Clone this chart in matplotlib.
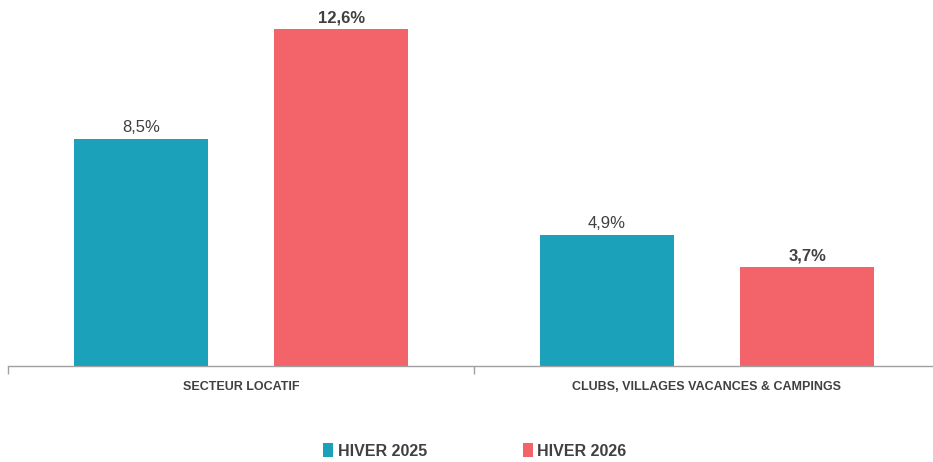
import matplotlib.pyplot as plt
from matplotlib import font_manager
import numpy as np

# Data
categories = ['SECTEUR LOCATIF', 'CLUBS, VILLAGES VACANCES & CAMPINGS']
series_names = ['HIVER 2025', 'HIVER 2026']
hiver_2025 = [8.5, 4.9]
hiver_2026 = [12.6, 3.7]

TEAL = '#1BA1B9'
CORAL = '#F2636A'
TEXT_GREY = '#404040'

# condensed font for the category labels / legend if available
names = {f.name for f in font_manager.fontManager.ttflist}
NARROW = 'Liberation Sans Narrow' if 'Liberation Sans Narrow' in names else 'Liberation Sans'
plt.rcParams['font.family'] = ['Liberation Sans', 'DejaVu Sans']

fig = plt.figure(figsize=(9.33, 4.62), dpi=100)
# axes spans from x=8px to ~940px, baseline at y=366px
ax = fig.add_axes([8 / 933, (462 - 366) / 462, 932 / 933, 366 / 462])

x = np.arange(len(categories))
w = 0.2875
off = 0.215
bars1 = ax.bar(x - off, hiver_2025, w, color=TEAL, label=series_names[0])
bars2 = ax.bar(x + off, hiver_2026, w, color=CORAL, label=series_names[1])

for b, v in zip(bars1, hiver_2025):
    ax.text(b.get_x() + b.get_width() / 2, v + 0.15, f'{v:.1f}%'.replace('.', ','),
            ha='center', va='bottom', fontsize=12, color=TEXT_GREY)
for b, v in zip(bars2, hiver_2026):
    ax.text(b.get_x() + b.get_width() / 2, v + 0.15, f'{v:.1f}%'.replace('.', ','),
            ha='center', va='bottom', fontsize=12, color=TEXT_GREY, fontweight='bold')

ax.set_xlim(-0.5, 1.5)
ax.set_ylim(0, 13.7)
ax.set_yticks([])
for s in ['top', 'right', 'left']:
    ax.spines[s].set_visible(False)
ax.spines['bottom'].set_color('#A0A0A0')
ax.spines['bottom'].set_linewidth(1)

# category boundary ticks
ax.set_xticks([-0.5, 0.5, 1.5])
ax.set_xticklabels([])
ax.tick_params(axis='x', direction='out', length=6, color='#A0A0A0', width=1)
for xi, cat in zip(x, categories):
    ax.text(xi, -0.55, cat, ha='center', va='top', fontsize=9, fontweight='bold',
            color=TEXT_GREY, family=NARROW)

leg = fig.legend(handles=[bars1, bars2], labels=series_names, loc='center',
                 bbox_to_anchor=(475 / 933, 1 - 451 / 462), ncol=2, frameon=False,
                 handlelength=0.6, handleheight=0.9, handletextpad=0.3,
                 columnspacing=6, prop={'family': NARROW, 'weight': 'bold', 'size': 11.5})
for t in leg.get_texts():
    t.set_color(TEXT_GREY)

fig.savefig('out.png', dpi=100)
